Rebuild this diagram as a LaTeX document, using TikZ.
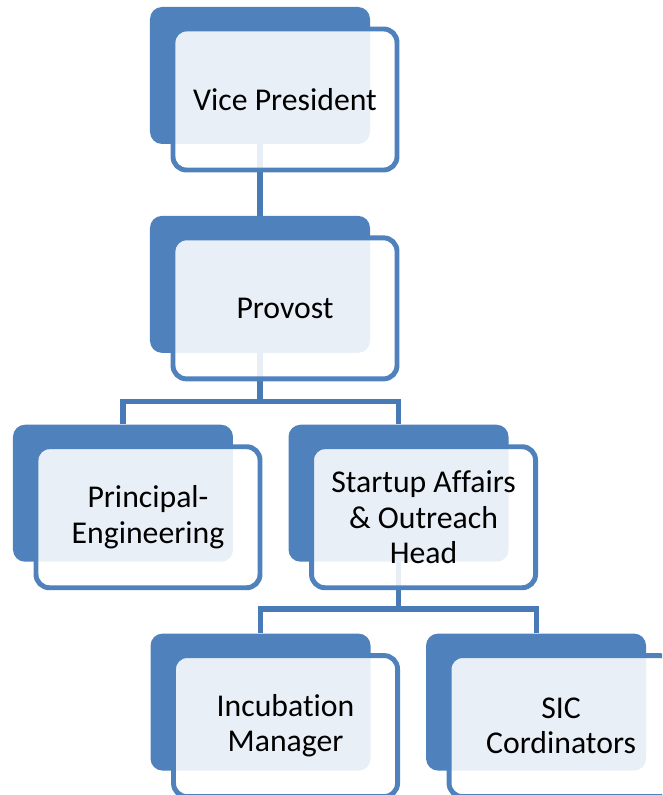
\documentclass[tikz,border=0pt]{standalone}
\usepackage{fontspec}
\setmainfont{Carlito}[Ligatures=NoCommon]
\usetikzlibrary{positioning,calc}
\definecolor{orgblue}{RGB}{79,129,189}
\definecolor{linkblue}{RGB}{72,122,182}

\begin{document}
\begin{tikzpicture}[font=\fontsize{23.8}{26.3}\selectfont,
  backbox/.style={fill=orgblue, rounded corners=9pt, minimum width=165pt, minimum height=102.75pt, inner sep=0pt},
  frontbox/.style={draw=orgblue, line width=3.7pt, fill=white, fill opacity=0.88, text opacity=1, rounded corners=10pt,
     minimum width=168pt, minimum height=105.75pt, align=center, inner sep=0pt},
  link/.style={draw=linkblue, line width=3.8pt}]
  \useasboundingbox (-195pt,56.625pt) rectangle (301.5pt,-539.625pt);
  \clip (-195pt,56.625pt) rectangle (301.5pt,-539.625pt);
  \node[backbox] (vp) at (0,0) {};
  \node[backbox, below=53.5pt of vp] (provost) {};
  \node[backbox, below=53.5pt of provost, xshift=-102.75pt] (principal) {};
  \node[backbox, right=41.25pt of principal] (startup) {};
  \node[backbox, below=53.5pt of startup, xshift=-103.5pt] (incubation) {};
  \node[backbox, right=41.25pt of incubation] (sic) {};
  \draw[link] (vp.south) -- (provost.north);
  \draw[link] (provost.south) -- ++(0,-36pt) -| (principal.north);
  \draw[link] (provost.south) -- ++(0,-36pt) -| (startup.north);
  \draw[link] (startup.south) -- ++(0,-35.25pt) -| (incubation.north);
  \draw[link] (startup.south) -- ++(0,-35.25pt) -| (sic.north);
  \node[frontbox] (vpcard) at ($(vp)+(18.75pt,-18pt)$) {Vice President};
  \node[frontbox] (provostcard) at ($(provost)+(18.75pt,-18pt)$) {Provost};
  \node[frontbox] (principalcard) at ($(principal)+(18.75pt,-18pt)$) {Principal-\\Engineering};
  \node[frontbox] (startupcard) at ($(startup)+(18.75pt,-18pt)$) {Startup Affairs\\\& Outreach\\Head};
  \node[frontbox] (incubationcard) at ($(incubation)+(18.75pt,-18pt)$) {Incubation\\Manager};
  \node[frontbox] (siccard) at ($(sic)+(18.75pt,-18pt)$) {SIC\\Cordinators};
\end{tikzpicture}
\end{document}
